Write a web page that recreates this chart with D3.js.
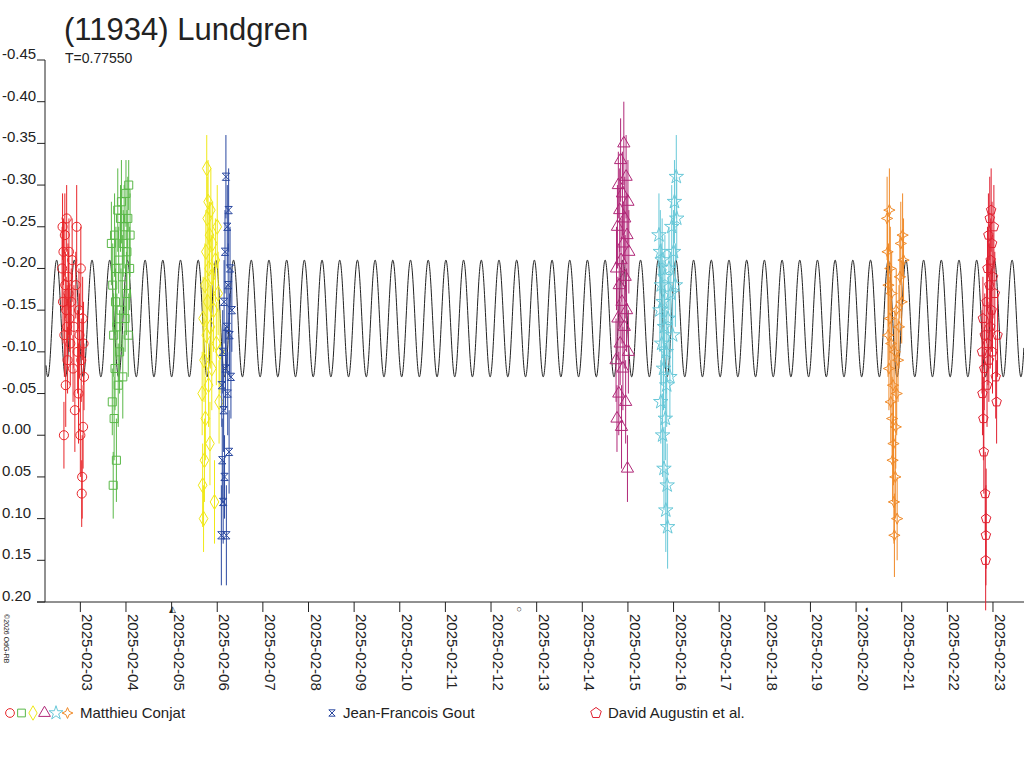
<!DOCTYPE html>
<html>
<head>
<meta charset="utf-8">
<script src="https://d3js.org/d3.v7.min.js"></script>
<style>
body { margin: 0; background: #fff; }
text { font-family: "Liberation Sans", Arial, sans-serif; fill: #222; }
</style>
</head>
<body>
<div id="app"></div>
<script>
// [day of Feb 2025, reduced mag, error]
const sessions = [
  { name: "conjat", color: "#e8262a", sym: "circle", pts: [
    [2.60,-0.20,0.05],[2.61,-0.25,0.04],[2.62,-0.16,0.05],[2.63,-0.22,0.04],[2.64,0.00,0.04],[2.65,-0.12,0.05],
    [2.66,-0.24,0.05],[2.67,-0.18,0.04],[2.68,-0.06,0.05],[2.69,-0.15,0.04],[2.70,-0.26,0.04],[2.71,-0.13,0.05],
    [2.72,-0.09,0.04],[2.73,-0.19,0.04],[2.74,-0.17,0.05],[2.75,-0.22,0.04],[2.76,-0.14,0.04],[2.78,-0.11,0.05],
    [2.80,-0.16,0.04],[2.82,-0.21,0.05],[2.84,-0.08,0.04],[2.86,-0.13,0.05],[2.88,-0.03,0.05],[2.90,-0.18,0.04],
    [2.92,-0.25,0.05],[2.94,-0.10,0.05],[2.96,-0.05,0.06],[2.97,-0.15,0.05],[2.98,-0.12,0.05],[3.00,0.00,0.05],
    [3.01,-0.20,0.05],[3.02,-0.09,0.05],[3.03,0.07,0.04],[3.04,0.05,0.05],[3.05,-0.14,0.05],[3.06,-0.01,0.05],
    [3.07,-0.11,0.05],[3.08,-0.07,0.04]]},
  { name: "conjat", color: "#5ab848", sym: "square", pts: [
    [3.68,-0.23,0.05],[3.70,-0.04,0.04],[3.71,-0.18,0.05],[3.72,0.06,0.04],[3.73,-0.12,0.05],[3.74,-0.02,0.05],
    [3.75,-0.24,0.05],[3.76,-0.08,0.05],[3.77,-0.16,0.04],[3.78,-0.20,0.05],[3.79,0.03,0.05],[3.80,-0.13,0.04],
    [3.82,-0.27,0.05],[3.83,-0.06,0.05],[3.84,-0.21,0.04],[3.86,-0.10,0.05],[3.88,-0.26,0.04],[3.89,-0.15,0.05],
    [3.90,-0.28,0.05],[3.92,-0.19,0.05],[3.93,-0.07,0.05],[3.94,-0.23,0.04],[3.96,-0.25,0.05],[3.98,-0.14,0.04],
    [4.00,-0.29,0.04],[4.01,-0.17,0.05],[4.02,-0.22,0.05],[4.04,-0.26,0.05],[4.05,-0.12,0.05],[4.06,-0.30,0.03],
    [4.08,-0.20,0.05],[4.09,-0.24,0.05]]},
  { name: "conjat", color: "#f0e818", sym: "diamond", pts: [
    [5.67,-0.05,0.05],[5.68,0.06,0.05],[5.69,-0.14,0.05],[5.70,0.10,0.04],[5.71,-0.09,0.05],[5.72,0.03,0.05],
    [5.73,-0.18,0.05],[5.74,-0.02,0.05],[5.75,-0.22,0.05],[5.76,-0.12,0.05],[5.77,-0.32,0.04],[5.78,-0.26,0.05],
    [5.79,-0.16,0.05],[5.80,-0.28,0.05],[5.81,-0.06,0.05],[5.82,-0.20,0.05],[5.83,-0.24,0.04],[5.84,0.01,0.05],
    [5.85,-0.13,0.05],[5.86,-0.27,0.05],[5.87,-0.19,0.05],[5.88,-0.08,0.05],[5.90,-0.23,0.05],[5.92,-0.15,0.05],
    [5.94,0.08,0.05],[5.96,-0.21,0.05],[5.98,-0.11,0.05],[6.00,-0.25,0.05],[6.02,-0.17,0.05],[6.04,-0.04,0.05],
    [6.06,-0.10,0.05]]},
  { name: "gout", color: "#2a48a0", sym: "bowtie", pts: [
    [6.09,0.12,0.06],[6.10,-0.06,0.05],[6.11,0.03,0.05],[6.12,-0.10,0.05],[6.13,0.08,0.05],[6.14,-0.03,0.05],
    [6.15,-0.16,0.05],[6.16,0.05,0.05],[6.17,-0.22,0.05],[6.18,-0.08,0.05],[6.19,-0.31,0.05],[6.20,0.12,0.06],
    [6.21,-0.13,0.05],[6.22,-0.25,0.05],[6.23,-0.05,0.05],[6.24,-0.18,0.05],[6.25,-0.27,0.05],[6.26,0.02,0.05],
    [6.27,-0.12,0.05],[6.28,-0.20,0.05],[6.30,-0.07,0.05],[6.32,-0.15,0.05]]},
  { name: "conjat", color: "#b02878", sym: "triangle", pts: [
    [14.74,-0.09,0.05],[14.75,-0.20,0.05],[14.76,-0.02,0.04],[14.77,-0.25,0.05],[14.78,-0.14,0.05],[14.79,-0.30,0.04],
    [14.80,-0.05,0.05],[14.81,-0.18,0.05],[14.82,-0.27,0.05],[14.83,-0.11,0.05],[14.84,-0.33,0.05],[14.85,-0.21,0.05],
    [14.86,-0.01,0.05],[14.87,-0.16,0.05],[14.88,-0.29,0.05],[14.89,-0.08,0.05],[14.90,-0.23,0.05],[14.91,-0.35,0.05],
    [14.92,-0.13,0.05],[14.93,-0.26,0.05],[14.94,-0.19,0.05],[14.95,-0.04,0.05],[14.96,-0.31,0.05],[14.97,-0.15,0.05],
    [14.98,-0.24,0.05],[14.99,0.04,0.04],[15.00,-0.28,0.05],[15.01,-0.10,0.05],[15.02,-0.22,0.05]]},
  { name: "conjat", color: "#68c8d8", sym: "star", pts: [
    [15.68,-0.24,0.05],[15.70,-0.15,0.05],[15.71,-0.22,0.05],[15.72,-0.04,0.05],[15.73,-0.18,0.05],[15.74,-0.11,0.05],
    [15.75,-0.21,0.05],[15.76,0.00,0.05],[15.77,-0.16,0.05],[15.78,-0.08,0.05],[15.79,0.04,0.05],[15.80,-0.13,0.05],
    [15.81,-0.19,0.05],[15.82,-0.02,0.05],[15.83,0.09,0.05],[15.84,-0.10,0.05],[15.85,-0.06,0.05],[15.86,0.06,0.05],
    [15.87,0.11,0.05],[15.88,-0.14,0.05],[15.90,-0.20,0.05],[15.92,-0.07,0.05],[15.94,-0.17,0.05],[15.96,-0.25,0.05],
    [15.98,-0.12,0.05],[16.00,-0.22,0.05],[16.02,-0.28,0.05],[16.04,-0.18,0.05],[16.06,-0.31,0.05],[16.07,-0.26,0.05]]},
  { name: "conjat", color: "#f08a28", sym: "star4", pts: [
    [20.68,-0.26,0.05],[20.69,-0.22,0.05],[20.70,-0.12,0.05],[20.71,-0.18,0.05],[20.72,-0.08,0.05],[20.73,-0.27,0.05],
    [20.74,-0.14,0.05],[20.75,-0.20,0.05],[20.76,-0.04,0.05],[20.77,-0.11,0.05],[20.78,-0.17,0.05],[20.79,-0.02,0.05],
    [20.80,0.03,0.05],[20.81,-0.06,0.05],[20.82,0.01,0.05],[20.83,0.08,0.05],[20.84,0.12,0.05],[20.85,-0.10,0.05],
    [20.86,0.05,0.05],[20.87,-0.01,0.05],[20.88,-0.15,0.05],[20.89,-0.05,0.05],[20.90,0.10,0.05],[20.92,-0.09,0.05],
    [20.94,-0.13,0.05],[20.96,-0.19,0.05],[20.98,-0.23,0.05],[21.00,-0.16,0.05],[21.02,-0.24,0.05],[21.04,-0.21,0.05]]},
  { name: "augustin", color: "#e02030", sym: "pentagon", pts: [
    [22.76,-0.10,0.05],[22.77,-0.05,0.05],[22.78,-0.14,0.05],[22.79,-0.02,0.05],[22.80,0.02,0.05],[22.81,-0.08,0.05],
    [22.82,-0.12,0.05],[22.83,0.07,0.05],[22.84,0.15,0.06],[22.845,0.12,0.06],[22.85,0.10,0.06],[22.86,-0.16,0.05],
    [22.87,-0.06,0.05],[22.88,-0.20,0.05],[22.89,-0.11,0.05],[22.90,-0.24,0.05],[22.91,-0.09,0.05],[22.92,-0.18,0.05],
    [22.93,-0.26,0.05],[22.94,-0.13,0.05],[22.95,-0.21,0.05],[22.96,-0.27,0.05],[22.97,-0.15,0.05],[22.98,-0.23,0.05],
    [22.99,-0.10,0.05],[23.00,-0.19,0.05],[23.02,-0.25,0.05],[23.04,-0.17,0.05],[23.06,-0.07,0.05],[23.08,-0.04,0.05],
    [23.10,-0.12,0.05]]}
];

// model lightcurve: period (d), epoch of maximum, mean mag, half-amplitude
const model = { period: 0.7755, t0: 20.317, mean: -0.14, amp: 0.07 };

const svg = d3.select("#app").append("svg").attr("width", 1024).attr("height", 768);
const x = d3.scaleLinear().domain([2.05, 23.68]).range([37, 1024]);
const y = d3.scaleLinear().domain([-0.45, 0.20]).range([60, 602]);

svg.append("text").attr("x", 64).attr("y", 40).attr("font-size", 31).text("(11934) Lundgren");
svg.append("text").attr("x", 65).attr("y", 63).attr("font-size", 14).text("T=0.77550");

// y axis
svg.append("line").attr("x1", 45).attr("x2", 45).attr("y1", 60).attr("y2", 602).attr("stroke", "#222");
const yt = d3.range(-0.45, 0.2001, 0.05);
yt.forEach(v => {
  svg.append("line").attr("x1", 37).attr("x2", 45).attr("y1", y(v)).attr("y2", y(v)).attr("stroke", "#222");
  svg.append("text").attr("x", 2).attr("y", y(v) - 1).attr("font-size", 15).text((Math.abs(v) < 1e-9 ? 0 : v).toFixed(2));
});

// x axis
svg.append("line").attr("x1", 37).attr("x2", 1024).attr("y1", 602).attr("y2", 602).attr("stroke", "#222");
d3.range(3, 24).forEach(d => {
  const px = x(d);
  svg.append("line").attr("x1", px).attr("x2", px).attr("y1", 602).attr("y2", 612).attr("stroke", "#222");
  svg.append("text").attr("transform", `translate(${px + 2},614) rotate(90)`).attr("font-size", 15)
    .text("2025-02-" + String(d).padStart(2, "0"));
});
svg.append("text").attr("transform", "translate(4,614) rotate(90)").attr("font-size", 7).text("©2026 OdG-RB");

// small moon-phase marks below the axis
[[5.02, "◭"], [12.62, "○"], [20.25, "◐"]].forEach(m => {
  svg.append("text").attr("x", x(m[0])).attr("y", 612).attr("font-size", 9).attr("text-anchor", "middle").text(m[1]);
});

// model curve
const curve = d3.range(x.invert(46), 23.68, 0.005).map(t =>
  [t, model.mean - model.amp * Math.cos(4 * Math.PI * (t - model.t0) / model.period)]);
svg.append("path").datum(curve).attr("fill", "none").attr("stroke", "#222").attr("stroke-width", 1)
  .attr("d", d3.line().x(d => x(d[0])).y(d => y(d[1])));

const shapes = {
  circle: d3.symbolCircle, square: d3.symbolSquare, diamond: d3.symbolDiamond,
  triangle: d3.symbolTriangle, star: d3.symbolStar
};
function symPath(sym, size) {
  if (sym === "pentagon") {
    const r = Math.sqrt(size) * 0.62;
    return "M" + d3.range(5).map(i => {
      const a = -Math.PI / 2 + i * 2 * Math.PI / 5;
      return [r * Math.cos(a), r * Math.sin(a)].join(",");
    }).join("L") + "Z";
  }
  if (sym === "star4") {
    const r = Math.sqrt(size) * 0.7, q = r * 0.3;
    return `M0,${-r}L${q},${-q}L${r},0L${q},${q}L0,${r}L${-q},${q}L${-r},0L${-q},${-q}Z`;
  }
  if (sym === "bowtie") {
    const r = Math.sqrt(size) * 0.45;
    return `M${-r},${-r}L${r},${-r}L${-r},${r}L${r},${r}Z`;
  }
  return d3.symbol().type(shapes[sym]).size(size)();
}

sessions.forEach(s => {
  const g = svg.append("g").attr("stroke", s.color).attr("fill", "none");
  g.selectAll("line.err").data(s.pts).join("line")
    .attr("x1", d => x(d[0])).attr("x2", d => x(d[0]))
    .attr("y1", d => y(d[1] - d[2])).attr("y2", d => y(d[1] + d[2]));
  g.selectAll("path").data(s.pts).join("path")
    .attr("transform", d => `translate(${x(d[0])},${y(d[1])})`)
    .attr("d", symPath(s.sym, 65));
});

// legend
const leg = svg.append("g").attr("fill", "none");
[["#e8262a", "circle"], ["#5ab848", "square"], ["#f0e818", "diamond"], ["#b02878", "triangle"], ["#68c8d8", "star"], ["#f08a28", "star4"]]
  .forEach((c, i) => leg.append("path").attr("transform", `translate(${10 + i * 11.5},713)`).attr("stroke", c[0]).attr("d", symPath(c[1], 60)));
svg.append("text").attr("x", 80).attr("y", 718).attr("font-size", 15).text("Matthieu Conjat");
leg.append("path").attr("transform", "translate(332,713)").attr("stroke", "#2a48a0").attr("d", symPath("bowtie", 50));
svg.append("text").attr("x", 343).attr("y", 718).attr("font-size", 15).text("Jean-Francois Gout");
leg.append("path").attr("transform", "translate(596,713)").attr("stroke", "#e02030").attr("d", symPath("pentagon", 80));
svg.append("text").attr("x", 608).attr("y", 718).attr("font-size", 15).text("David Augustin et al.");
</script>
</body>
</html>
